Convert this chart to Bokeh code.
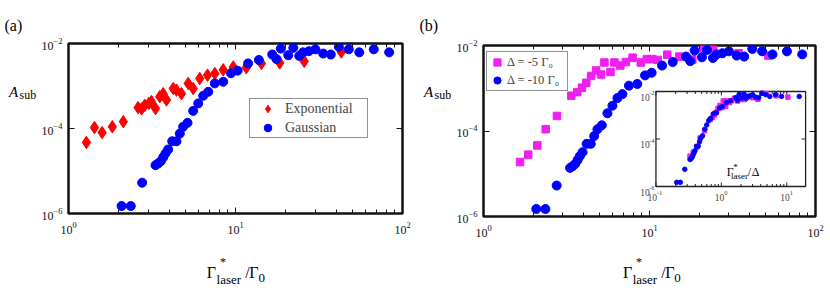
import math
from bokeh.plotting import figure
from bokeh.models import (Range1d, LogScale, FixedTicker, LogAxis, Label,
                          Legend, LegendItem)
from bokeh.layouts import row, column
from bokeh.embed import file_html
from bokeh.resources import INLINE

# ---------------- data ----------------
exp_x = [1.28, 1.43, 1.59, 1.83, 2.13, 2.61, 2.74, 2.86, 3.03, 3.14, 3.32, 3.52,
         3.69, 3.86, 4.24, 4.43, 4.75, 5.21, 5.58, 6.11, 6.8, 7.52, 8.44, 9.7,
         11.6, 14.3, 18.4, 25.8, 43.0]
exp_y = [4.7e-5, 1.05e-4, 8.0e-5, 1.1e-4, 1.45e-4, 3.1e-4, 2.9e-4, 3.5e-4, 3.9e-4,
         4.3e-4, 2.95e-4, 5.6e-4, 6.6e-4, 4.7e-4, 8.7e-4, 8.0e-4, 6.6e-4, 1.15e-3,
         8.7e-4, 1.5e-3, 1.8e-3, 1.96e-3, 2.4e-3, 2.8e-3, 2.7e-3, 3.4e-3, 3.5e-3,
         3.8e-3, 6.3e-3]

gau_x = [2.08, 2.36, 2.76, 3.32, 3.44, 3.57, 3.69, 3.81, 3.95, 4.18, 4.43, 4.64,
         4.86, 5.16, 5.58, 5.98, 6.41, 6.87, 7.52, 8.44, 9.4, 10.3, 11.9, 13.8,
         16.6, 17.6, 18.7, 20.7, 22.2, 24.1, 25.4, 27.5, 30.1, 33.5, 37.2, 41.6,
         47.7, 55.1, 67.3, 83.2, 155.0]
gau_y = [1.5e-6, 1.5e-6, 5.3e-6, 1.37e-5, 1.5e-5, 1.7e-5, 2.1e-5, 2.6e-5, 3.2e-5,
         5.0e-5, 5.0e-5, 7.6e-5, 1.1e-4, 1.36e-4, 2.6e-4, 3.9e-4, 5.9e-4, 7.3e-4,
         1.15e-3, 1.26e-3, 2.0e-3, 2.3e-3, 3.4e-3, 4.1e-3, 5.5e-3, 4.3e-3, 7.6e-3,
         5.3e-3, 7.9e-3, 5.1e-3, 6.2e-3, 6.6e-3, 7.3e-3, 5.8e-3, 5.5e-3, 8.3e-3,
         7.3e-3, 6.2e-3, 7.3e-3, 6.2e-3, 6.2e-3]

d5_x = [1.66, 1.86, 2.11, 2.37, 2.77, 3.38, 3.67, 3.92, 4.16, 4.45, 4.77, 5.11,
        5.35, 5.82, 6.15, 6.67, 7.21, 7.91, 8.87, 9.64, 10.4, 11.2, 12.8, 15.1,
        18.1, 21.2, 24.2, 34.4, 52.0]
d5_y = [1.88e-5, 2.8e-5, 4.6e-5, 1.1e-4, 2.25e-4, 6.7e-4, 8.1e-4, 1.03e-3, 1.34e-3,
        1.94e-3, 2.6e-3, 2.1e-3, 4.0e-3, 2.4e-3, 4.0e-3, 3.4e-3, 4.1e-3, 5.2e-3,
        4.0e-3, 4.8e-3, 4.8e-3, 4.6e-3, 6.1e-3, 5.5e-3, 4.7e-3, 8.5e-3, 8.1e-3,
        6.6e-3, 5.8e-3]

DELTA_D5 = 5.0    # |Delta| / Gamma0 for the magenta series
DELTA_D10 = 10.0  # |Delta| / Gamma0 for the blue series

series_labels_a = ["Exponential", "Gaussian"]
series_labels_b = ["\u0394 = -5 \u0393\u2080", "\u0394 = -10 \u0393\u2080"]

x_range = (1.0, 100.0)
y_range = (1e-6, 1e-2)
x_major = [1.0, 10.0, 100.0]
x_minor = [k * d for d in (1.0, 10.0) for k in range(2, 10)]
y_major = [1e-6, 1e-4, 1e-2]

inset_x_range = (0.1, 19.4)
inset_x_major = [0.1, 1.0, 10.0]
inset_x_minor = [k * d for d in (0.1, 1.0, 10.0) for k in range(2, 10) if k * d < 19.4]
inset_x_exps = ["-1", "0", "1"]
inset_y_major = [1e-6, 1e-4, 1e-2]
inset_y_exps = ["-6", "-4", "-2"]

RED = "#FF0000"
BLUE = "#0000FF"
MAGENTA = "#F01EF0"
SERIF = "Liberation Serif"

# page layout (pixels): label strip | plot ; x-title strip under each plot
SIDE_W = 38
PLOT_W, PLOT_H = 377, 250
TITLE_H = 43
PAGE_H = PLOT_H + TITLE_H


def make_fig(bl, br, bt, bb):
    p = figure(width=PLOT_W, height=PLOT_H, x_axis_type="log", y_axis_type="log",
               x_range=Range1d(*x_range), y_range=Range1d(*y_range),
               output_backend="svg", toolbar_location=None, title=None,
               min_border_left=bl, min_border_right=br,
               min_border_top=bt, min_border_bottom=bb)
    p.xgrid.visible = False
    p.ygrid.visible = False
    p.background_fill_color = "white"
    p.border_fill_color = "white"
    p.outline_line_color = "#111111"
    p.outline_line_width = 2.5
    p.outline_line_alpha = 1.0
    xt = FixedTicker(ticks=x_major, minor_ticks=x_minor)
    yt = FixedTicker(ticks=y_major, minor_ticks=[])
    p.xaxis.ticker = xt
    p.yaxis.ticker = yt
    p.add_layout(LogAxis(ticker=xt), "above")
    p.add_layout(LogAxis(ticker=yt), "right")
    for ax in p.axis:
        ax.axis_line_color = None
        ax.major_tick_in = 6
        ax.major_tick_out = 0
        ax.minor_tick_in = 4
        ax.minor_tick_out = 0
        ax.major_tick_line_color = "#111111"
        ax.minor_tick_line_color = "#111111"
        ax.major_tick_line_width = 1
        ax.minor_tick_line_width = 1
        ax.major_label_text_font = SERIF
        ax.major_label_text_font_size = "12px"
        ax.major_label_text_color = "#111111"
    for ax in p.yaxis:
        ax.minor_tick_line_color = None
    p.below[0].major_label_standoff = 8
    p.left[0].major_label_standoff = 6
    for ax in (p.above[0], p.right[0]):
        ax.major_label_text_font_size = "1px"
        ax.major_label_text_alpha = 0.0
        ax.major_label_standoff = 0
    return p


def text_fig(w, h, bl, br, xr, yr):
    """an empty strip whose data coordinates are page pixels"""
    f = figure(width=w, height=h, x_range=Range1d(*xr), y_range=Range1d(*yr),
               output_backend="svg", toolbar_location=None, title=None,
               x_axis_location=None, y_axis_location=None,
               min_border_left=bl, min_border_right=br, min_border_top=0, min_border_bottom=0)
    f.xgrid.visible = False
    f.ygrid.visible = False
    f.outline_line_color = None
    f.background_fill_color = "white"
    f.border_fill_color = "white"
    return f


def put(f, px, py, text, size, style="normal"):
    f.add_layout(Label(x=px, y=py, text=text, text_font=SERIF,
                       text_font_size=f"{size}px", text_font_style=style,
                       text_baseline="alphabetic", text_align="left", text_color="black"))


def page_text(p, fl, ft, px, py, text, size, style="normal"):
    """text inside a plot frame whose page top-left corner is (fl, ft)"""
    p.add_layout(Label(x=x_range[0], y=y_range[1], x_offset=px - fl, y_offset=-(py - ft),
                       text=text, text_font=SERIF, text_font_size=f"{size}px",
                       text_font_style=style, text_baseline="alphabetic",
                       text_align="left", text_color="black"))


def side_strip(ox, label):
    f = text_fig(SIDE_W, PAGE_H, 0, 0, (ox, ox + SIDE_W), (PAGE_H, 0))
    put(f, ox + 4.0, 25, label, 16)
    put(f, ox + 8.5, 91.0, "A", 15, "italic")
    put(f, ox + 19.0, 94.5, "sub", 12)
    return f


def title_strip(fl, fr, bl, br, dx):
    f = text_fig(PLOT_W, TITLE_H, bl, br, (fl, fr), (PAGE_H, PLOT_H))
    put(f, 205.7 + dx, 272.0, "\u0393", 16)
    put(f, 219.0 + dx, 261.8, "*", 12)
    put(f, 215.5 + dx, 279.3, "laser", 13)
    put(f, 244.3 + dx, 272.0, "/", 16)
    put(f, 248.3 + dx, 272.0, "\u0393", 16)
    put(f, 257.5 + dx, 277.0, "0", 13)
    return f


# ---------------- panel (a) ----------------
FL_A, FR_A = 67, 402
p1 = make_fig(29, 13, 43, 37)
r_exp = p1.scatter(exp_x, exp_y, marker="diamond", size=12.5, color=RED)
r_gau = p1.scatter(gau_x, gau_y, marker="circle", size=9, color=BLUE)
leg_a = Legend(items=[LegendItem(label=series_labels_a[0], renderers=[r_exp]),
                      LegendItem(label=series_labels_a[1], renderers=[r_gau])],
               location=(181, 75), margin=0, padding=0, spacing=0,
               glyph_width=35, glyph_height=19, label_standoff=0,
               label_width=82, label_height=19,
               label_text_font=SERIF, label_text_font_size="14px",
               border_line_color="#222222", border_line_width=1.2,
               background_fill_color="white", background_fill_alpha=1.0)
p1.add_layout(leg_a)
side_a = side_strip(0, "(a)")
title_a = title_strip(FL_A, FR_A, 29, 13, 0)

# ---------------- panel (b) ----------------
FL_B, FT_B = 480, 45
OX_B = SIDE_W + PLOT_W
p2 = make_fig(27, 15, 45, 34)
r_d5 = p2.scatter(d5_x, d5_y, marker="square", size=7.5, color=MAGENTA)
r_d10 = p2.scatter(gau_x, gau_y, marker="circle", size=9, color=BLUE)
leg_b = Legend(items=[LegendItem(label=series_labels_b[0], renderers=[r_d5]),
                      LegendItem(label=series_labels_b[1], renderers=[r_d10])],
               location=(3, 125), margin=0, padding=1, spacing=0,
               glyph_width=18, glyph_height=18, label_standoff=1,
               label_width=59, label_height=18,
               label_text_font=SERIF, label_text_font_size="12.5px",
               border_line_color="#222222", border_line_width=1.6,
               background_fill_color="white", background_fill_alpha=1.0)
p2.add_layout(leg_b)
side_b = side_strip(OX_B, "(b)")
title_b = title_strip(FL_B, 815, 27, 15, 415)

# ---------------- inset in panel (b) ----------------
# inset box in page pixels, and main frame of panel (b) in page pixels
IN_L, IN_R, IN_T, IN_B = 654, 805, 91, 186
FR_L, FR_R, FR_T, FR_B = 480, 815, 45, 216
lx0, lx1 = math.log10(inset_x_range[0]), math.log10(inset_x_range[1])
ly0, ly1 = math.log10(y_range[0]), math.log10(y_range[1])
kx = (lx1 - lx0) / (IN_R - IN_L)
ky = (ly1 - ly0) / (IN_B - IN_T)
p2.extra_x_ranges = {"ix": Range1d(10 ** (lx0 - (IN_L - FR_L) * kx),
                                   10 ** (lx1 + (FR_R - IN_R) * kx))}
p2.extra_y_ranges = {"iy": Range1d(10 ** (ly0 - (FR_B - IN_B) * ky),
                                   10 ** (ly1 + (IN_T - FR_T) * ky))}
p2.extra_x_scales = {"ix": LogScale()}
p2.extra_y_scales = {"iy": LogScale()}
IR = dict(x_range_name="ix", y_range_name="iy")

p2.quad(left=[inset_x_range[0]], right=[inset_x_range[1]], bottom=[y_range[0]],
        top=[y_range[1]], fill_color="white", line_color="#222222", line_width=1.3, **IR)
tick_style = dict(line_color="#222222", line_width=1, length_units="screen", **IR)
p2.ray(x=inset_x_major, y=[y_range[0]] * len(inset_x_major), length=4, angle=math.pi / 2, **tick_style)
p2.ray(x=inset_x_major, y=[y_range[1]] * len(inset_x_major), length=4, angle=-math.pi / 2, **tick_style)
p2.ray(x=inset_x_minor, y=[y_range[0]] * len(inset_x_minor), length=2.5, angle=math.pi / 2, **tick_style)
p2.ray(x=inset_x_minor, y=[y_range[1]] * len(inset_x_minor), length=2.5, angle=-math.pi / 2, **tick_style)
p2.ray(x=[inset_x_range[0]] * 3, y=inset_y_major, length=4, angle=0, **tick_style)
p2.ray(x=[inset_x_range[1]] * 3, y=inset_y_major, length=4, angle=math.pi, **tick_style)

ins_d5_x = [v / DELTA_D5 for v in d5_x]
ins_d10_x = [v / DELTA_D10 for v in gau_x]
p2.scatter(ins_d5_x, d5_y, marker="square", size=4.5, color=MAGENTA, **IR)
p2.scatter(ins_d10_x, gau_y, marker="circle", size=4.5, color=BLUE, **IR)

# inset tick labels
for xv, ex, dx in zip(inset_x_major, inset_x_exps, [1.0, 3.0, 3.0]):
    p2.add_layout(Label(x=xv, y=y_range[0], x_offset=dx, y_offset=-10.5, text="10",
                        text_font=SERIF, text_font_size="9.5px", text_align="right",
                        text_baseline="alphabetic", **IR))
    p2.add_layout(Label(x=xv, y=y_range[0], x_offset=dx, y_offset=-6.0, text=ex,
                        text_font=SERIF, text_font_size="6.5px", text_align="left",
                        text_baseline="alphabetic", **IR))
for yv, ex in zip(inset_y_major, inset_y_exps):
    p2.add_layout(Label(x=inset_x_range[0], y=yv, x_offset=-6.3, y_offset=-5.5, text="10",
                        text_font=SERIF, text_font_size="9.5px", text_align="right",
                        text_baseline="alphabetic", **IR))
    p2.add_layout(Label(x=inset_x_range[0], y=yv, x_offset=-1.5, y_offset=-1.5, text=ex,
                        text_font=SERIF, text_font_size="6.5px", text_align="right",
                        text_baseline="alphabetic", **IR))

# inset axis title
page_text(p2, FL_B, FT_B, 723.3, 171.0, "\u0393", 12)
page_text(p2, FL_B, FT_B, 729.8, 166.0, "*", 9)
page_text(p2, FL_B, FT_B, 727.5, 175.7, "laser", 9)
page_text(p2, FL_B, FT_B, 744.3, 171.0, "/", 12)
page_text(p2, FL_B, FT_B, 748.3, 171.0, "\u0394", 12)

layout = row(side_a, column(p1, title_a), side_b, column(p2, title_b))
open("out.html", "w").write(file_html(layout, INLINE))
